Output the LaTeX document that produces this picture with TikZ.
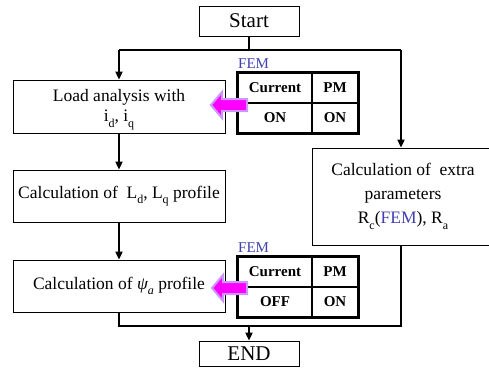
\documentclass[tikz,border=0pt]{standalone}
\usepackage{fontspec}
\setmainfont{Liberation Serif}
\usetikzlibrary{arrows.meta}
\definecolor{femblue}{RGB}{64,64,176}
\definecolor{arrowfill}{RGB}{255,0,255}
\definecolor{arrowedge}{RGB}{204,150,255}
\newcommand\sbs[1]{\raisebox{-0.32em}{\fontsize{12}{12}\selectfont #1}}
\tikzset{
  box/.style={draw, line width=0.8pt, inner sep=0pt, align=center,
    font=\fontsize{17.5}{20}\selectfont},
  flow/.style={line width=1.8pt, -{Triangle[length=8pt,width=7pt]}},
  link/.style={line width=1.8pt},
  tcell/.style={draw, line width=1.2pt, inner sep=0pt, font=\fontsize{15}{18}\selectfont\bfseries},
  tframe/.style={draw, line width=2.6pt},
  femlabel/.style={anchor=base west, inner sep=0pt, text=femblue, font=\fontsize{15}{18}\selectfont},
  pink/.style={fill=arrowfill, draw=arrowedge, line width=2pt, line join=miter}
}
\begin{document}
\begin{tikzpicture}[x=1pt,y=-1pt]
\useasboundingbox (0,0) rectangle (489,376);
% boxes
\node[box, minimum width=100pt, minimum height=30pt, font=\fontsize{21}{24}\selectfont] (start) at (249,21) {Start};
\node[box, minimum width=212pt, minimum height=53pt] (load) at (119,106.5) {\rule{0pt}{18pt}Load analysis with\\ i\sbs{d}, i\sbs{q}};
\node[box, minimum width=212pt, minimum height=52pt] (ld) at (119,196) {Calculation of~ L\sbs{d}, L\sbs{q} profile};
\node[box, minimum width=212pt, minimum height=52pt] (psi) at (119,286) {Calculation of {\itshape ψ\sbs{a}} profile};
\node[box, minimum width=182pt, minimum height=97pt, font=\fontsize{17.5}{24}\selectfont] (extra) at (403,196.5) {Calculation of~ extra\\ parameters\\ R\sbs{c}(\textcolor{femblue}{FEM}), R\sbs{a}};
\node[box, minimum width=100pt, minimum height=25pt, font=\fontsize{21}{24}\selectfont] (end) at (249,353.5) {END};
% junctions
\coordinate (j0) at (249,50);
\coordinate (jl) at (119,50);
\coordinate (jr) at (401,50);
\coordinate (k0) at (249,326);
\coordinate (kl) at (119,326);
\coordinate (kr) at (401,326);
% connectors
\draw[link] (start.south) -- (j0);
\draw[link] (jl) -- (jr);
\draw[flow] (jl) -- (load.north);
\draw[flow] (jr) -- (jr |- extra.north);
\draw[flow] (load.south) -- (ld.north);
\draw[flow] (ld.south) -- (psi.north);
\draw[link] (psi.south) -- (kl) -- (kr) -- (kr |- extra.south);
\draw[flow] (k0) -- (end.north);
% table 1
\node[femlabel] (fem1) at (238,68) {FEM};
\node[tcell, minimum width=74pt, minimum height=30pt] (a11) at (275,88) {Current};
\node[tcell, minimum width=46pt, minimum height=30pt] (a12) at (335,88) {PM};
\node[tcell, minimum width=74pt, minimum height=30pt] (a21) at (275,118) {ON};
\node[tcell, minimum width=46pt, minimum height=30pt] (a22) at (335,118) {ON};
\draw[tframe] (a11.north west) rectangle (a22.south east);
% table 2
\node[femlabel] (fem2) at (238,252) {FEM};
\node[tcell, minimum width=74pt, minimum height=30pt] (b11) at (275,272) {Current};
\node[tcell, minimum width=46pt, minimum height=30pt] (b12) at (335,272) {PM};
\node[tcell, minimum width=74pt, minimum height=30pt] (b21) at (275,302) {OFF};
\node[tcell, minimum width=46pt, minimum height=30pt] (b22) at (335,302) {ON};
\draw[tframe] (b11.north west) rectangle (b22.south east);
% pink arrows
\draw[pink] (211,105) -- (222,92) -- (222,99) -- (247,99) -- (247,111) -- (222,111) -- (222,118) -- cycle;
\draw[pink] (212,288) -- (223,275) -- (223,282) -- (247,282) -- (247,294) -- (223,294) -- (223,301) -- cycle;
\end{tikzpicture}
\end{document}
